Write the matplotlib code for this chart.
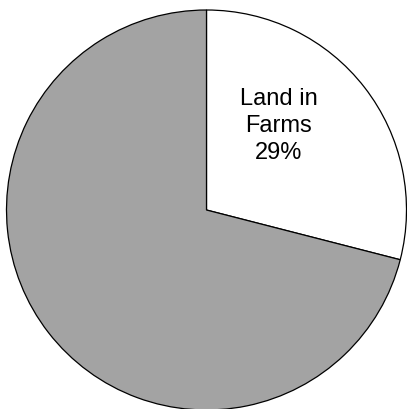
import matplotlib.pyplot as plt

# ==========================
# DATA
# ==========================

categories = ["Land in Farms", "Other Land"]
shares = [29, 71]
colors = ["white", "#a3a3a3"]

# ==========================
# PLOT
# ==========================

fig = plt.figure(figsize=(4.07, 4.09), dpi=100)
ax = fig.add_axes([0, 0, 1, 1])

ax.pie(
    shares,
    colors=colors,
    startangle=90,
    counterclock=False,
    radius=1.0,
    wedgeprops={"edgecolor": "black", "linewidth": 0.9},
)

ax.text(
    0.36, 0.42,
    f"{categories[0].replace(' in ', ' in\n')}\n{shares[0]}%",
    ha="center", va="center",
    fontsize=17, family="Liberation Sans",
    linespacing=1.3,
)

ax.set_xlim(-1.0325, 1.0025)
ax.set_ylim(-0.995, 1.05)
ax.set_aspect("equal")
ax.axis("off")

fig.savefig("out.png", dpi=100)
